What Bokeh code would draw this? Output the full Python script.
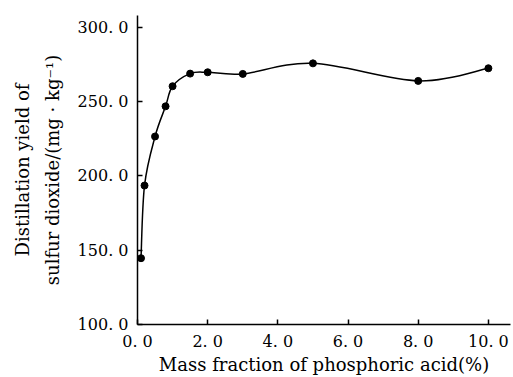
from bokeh.plotting import figure
from bokeh.embed import file_html
from bokeh.resources import INLINE
from bokeh.models import FixedTicker, Range1d, Title
import numpy as np

# Data
mass_fraction = [0.1, 0.2, 0.5, 0.8, 1.0, 1.5, 2.0, 3.0, 5.0, 8.0, 10.0]
yield_so2 = [144.6, 193.5, 226.5, 246.8, 260.3, 268.8, 269.7, 268.6, 275.7, 263.9, 272.4]
x_ticks = [0, 2, 4, 6, 8, 10]
x_tick_labels = ["0. 0", "2. 0", "4. 0", "6. 0", "8. 0", "10. 0"]
y_ticks = [100, 150, 200, 250, 300]
y_tick_labels = ["100. 0", "150. 0", "200. 0", "250. 0", "300. 0"]

FONT = "DejaVu Serif"

p = figure(width=513, height=377, output_backend="svg", toolbar_location=None,
           x_range=Range1d(0, 10.63), y_range=Range1d(100, 307.9),
           min_border_left=137, min_border_right=3, min_border_top=15,
           min_border_bottom=53)
p.outline_line_color = None
p.grid.visible = False
p.background_fill_color = "white"
p.border_fill_color = "white"

# smooth curve (Catmull-Rom converted to cubic Bezier segments)
xs = np.array(mass_fraction)
ys = np.array(yield_so2)
n = len(xs)
px = np.concatenate([[xs[0]], xs, [xs[-1]]])
py = np.concatenate([[ys[0]], ys, [ys[-1]]])
x0, y0, x1, y1, cx0, cy0, cx1, cy1 = [], [], [], [], [], [], [], []
for i in range(n - 1):
    P0x, P0y = px[i], py[i]
    P1x, P1y = px[i + 1], py[i + 1]
    P2x, P2y = px[i + 2], py[i + 2]
    P3x, P3y = px[i + 3], py[i + 3]
    x0.append(P1x); y0.append(P1y)
    x1.append(P2x); y1.append(P2y)
    cx0.append(P1x + (P2x - P0x) / 6); cy0.append(P1y + (P2y - P0y) / 6)
    cx1.append(P2x - (P3x - P1x) / 6); cy1.append(P2y - (P3y - P1y) / 6)
p.bezier(x0=x0, y0=y0, x1=x1, y1=y1, cx0=cx0, cy0=cy0, cx1=cx1, cy1=cy1,
         line_color="black", line_width=1.5)
p.scatter(mass_fraction, yield_so2, size=7, color="black")

for ax in (p.xaxis[0], p.yaxis[0]):
    ax.axis_line_color = "black"
    ax.axis_line_width = 1.5
    ax.major_tick_line_color = "black"
    ax.major_tick_line_width = 1.5
    ax.major_tick_in = 5
    ax.major_tick_out = 0
    ax.minor_tick_line_color = None
    ax.major_label_text_font = FONT
    ax.major_label_text_font_size = "16px"
    ax.major_label_text_color = "black"
    ax.axis_label_text_font = FONT
    ax.axis_label_text_font_size = "18px"
    ax.axis_label_text_font_style = "normal"
    ax.axis_label_text_color = "black"

p.xaxis.ticker = FixedTicker(ticks=x_ticks)
p.xaxis.major_label_overrides = dict(zip(x_ticks, x_tick_labels))
p.yaxis.ticker = FixedTicker(ticks=y_ticks)
p.yaxis.major_label_overrides = dict(zip(y_ticks, y_tick_labels))

p.xaxis.axis_label = "Mass fraction of phosphoric acid(%)"
p.yaxis.axis_label = "sulfur dioxide/(mg \u00b7 kg\u207b\u00b9)"
p.xaxis.major_label_standoff = 7
p.yaxis.major_label_standoff = 9
p.xaxis.axis_label_standoff = 0
p.yaxis.axis_label_standoff = 12

t = Title(text="Distillation yield of", align="center", text_font=FONT,
          text_font_size="18px", text_font_style="normal", text_color="black",
          standoff=11, offset=0)
p.add_layout(t, "left")

open("out.html", "w").write(file_html(p, INLINE))
